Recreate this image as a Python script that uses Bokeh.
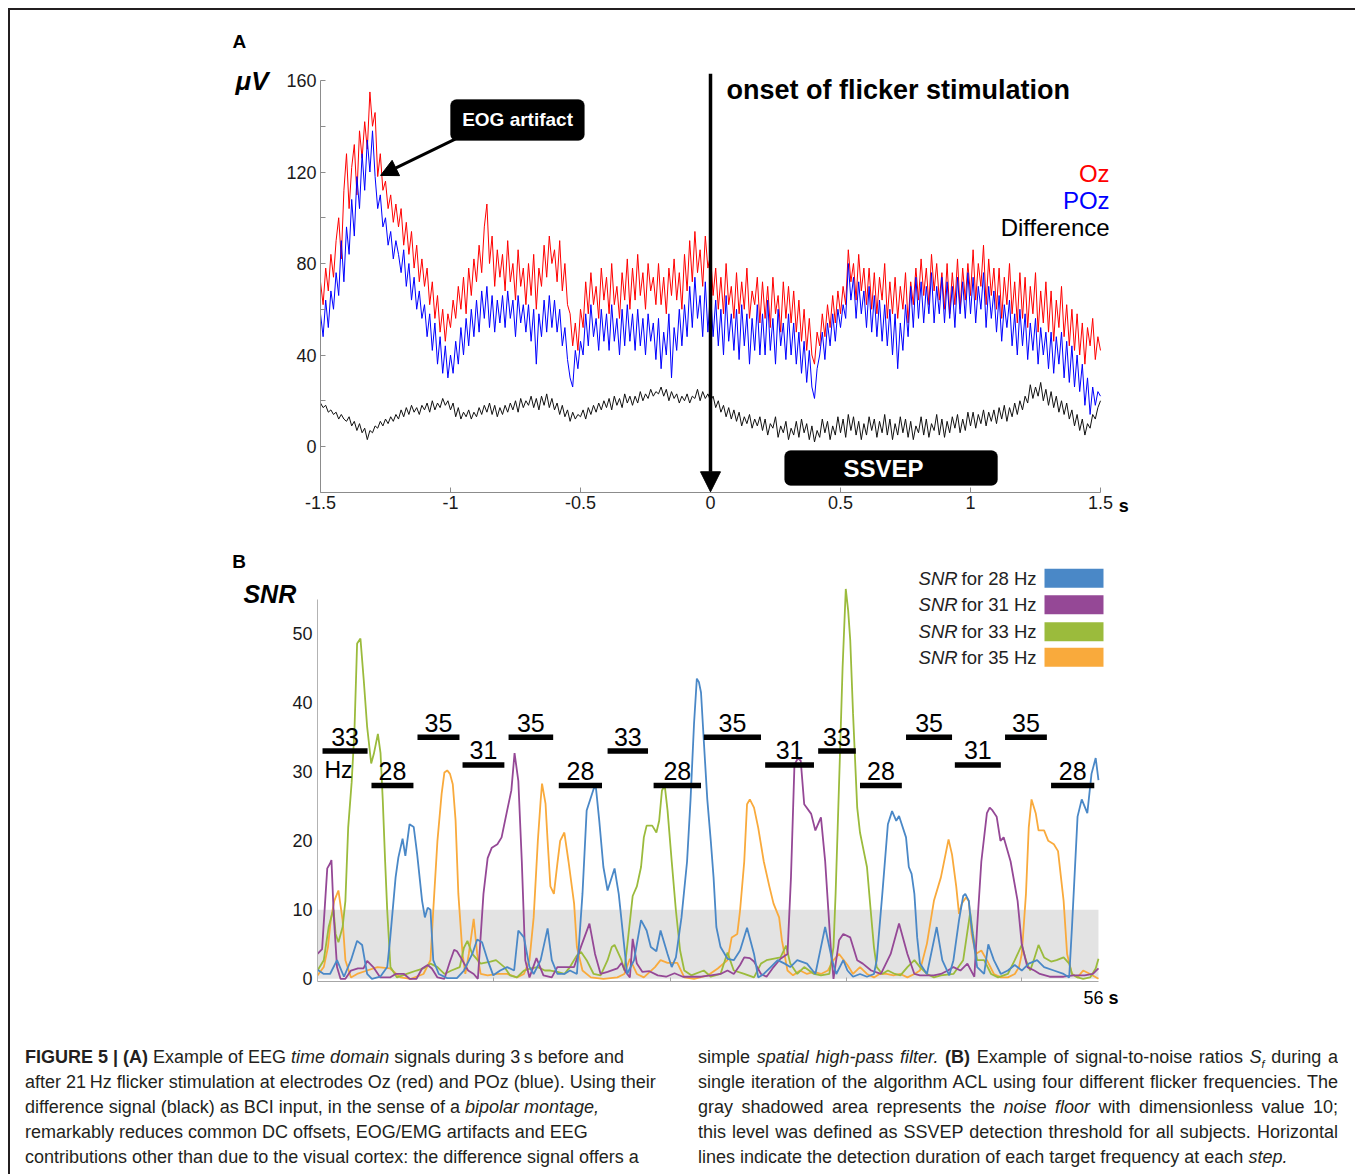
import numpy as np
from bokeh.plotting import figure
from bokeh.models import (Range1d, FixedTicker, CustomJSTickFormatter, Label, Arrow,
                          NormalHead, BoxAnnotation, ColumnDataSource, Div)
from bokeh.layouts import column
from bokeh.embed import file_html
from bokeh.resources import INLINE
from bokeh.core.properties import value

FONT = "Liberation Sans"

# ---------------- Panel A data (uV), 3 s around flicker onset, 10 ms steps ----------------
oz = [72, 62, 78, 68, 84, 74, 90, 100, 82, 112,
      128, 104, 122, 132, 110, 138, 126, 142, 130, 155,
      140, 146, 118, 128, 112, 116, 104, 110, 98, 106,
      96, 104, 88, 98, 84, 94, 78, 88, 72, 82,
      70, 78, 62, 72, 56, 66, 50, 60, 46, 58,
      52, 64, 56, 70, 60, 74, 58, 78, 66, 82,
      72, 88, 76, 96, 106, 80, 92, 70, 86, 74,
      84, 68, 90, 72, 80, 64, 86, 70, 78, 62,
      80, 66, 84, 60, 78, 70, 88, 74, 92, 80,
      86, 72, 90, 68, 80, 62, 58, 44, 54, 42,
      60, 52, 72, 58, 76, 62, 70, 56, 78, 64,
      74, 58, 80, 62, 70, 56, 76, 64, 82, 60,
      78, 64, 84, 66, 76, 60, 80, 68, 74, 62,
      80, 62, 74, 58, 78, 66, 82, 64, 76, 60,
      84, 68, 90, 72, 94, 76, 86, 70, 92, 78,
      84, 66, 78, 60, 74, 58, 80, 62, 70, 56,
      76, 58, 72, 60, 78, 56, 68, 62, 74, 54,
      72, 56, 70, 52, 74, 58, 66, 50, 72, 56,
      70, 54, 68, 50, 64, 46, 60, 42, 56, 40,
      36, 50, 44, 58, 48, 62, 52, 66, 54, 68,
      58, 70, 62, 86, 72, 80, 64, 84, 68, 78,
      62, 78, 60, 76, 58, 74, 64, 80, 56, 72,
      58, 74, 56, 70, 60, 76, 54, 72, 62, 78,
      64, 82, 66, 78, 62, 84, 68, 80, 64, 76,
      60, 80, 58, 76, 62, 82, 60, 78, 64, 80,
      66, 86, 64, 80, 70, 88, 62, 82, 66, 78,
      60, 78, 56, 74, 62, 80, 58, 72, 54, 76,
      56, 74, 52, 70, 58, 76, 50, 68, 54, 72,
      50, 68, 46, 64, 52, 70, 48, 62, 44, 60,
      42, 58, 40, 54, 36, 52, 44, 56, 38, 48, 42]
poz = [58, 48, 64, 52, 68, 60, 76, 66, 90, 72,
       96, 84, 108, 92, 118, 104, 128, 112, 134, 120,
       138, 118, 104, 110, 96, 100, 88, 94, 82, 90,
       84, 76, 86, 70, 80, 64, 74, 60, 68, 56,
       62, 48, 58, 42, 54, 36, 48, 32, 44, 30,
       40, 32, 46, 36, 52, 40, 56, 44, 60, 48,
       64, 50, 68, 56, 70, 52, 66, 50, 64, 54,
       66, 52, 68, 56, 64, 48, 66, 54, 62, 50,
       62, 46, 60, 36, 58, 48, 64, 50, 66, 52,
       64, 50, 60, 44, 52, 38, 30, 26, 42, 34,
       46, 40, 58, 44, 62, 48, 56, 42, 60, 46,
       58, 42, 62, 46, 56, 40, 60, 44, 62, 46,
       58, 42, 60, 44, 56, 40, 58, 46, 54, 38,
       56, 34, 50, 40, 58, 30, 52, 42, 60, 44,
       62, 48, 70, 52, 74, 56, 66, 48, 72, 50,
       68, 48, 64, 44, 60, 40, 66, 46, 58, 42,
       60, 38, 62, 44, 58, 36, 56, 42, 62, 40,
       58, 40, 64, 42, 56, 36, 60, 44, 54, 38,
       58, 40, 54, 36, 50, 32, 46, 28, 42, 26,
       21, 34, 40, 50, 38, 54, 44, 58, 46, 60,
       52, 62, 56, 80, 64, 74, 56, 72, 58, 68,
       52, 70, 50, 66, 48, 64, 46, 62, 44, 60,
       40, 58, 34, 54, 42, 62, 48, 70, 52, 74,
       56, 72, 54, 70, 58, 76, 54, 70, 58, 74,
       54, 72, 56, 70, 52, 74, 58, 72, 56, 76,
       58, 74, 54, 70, 60, 76, 52, 70, 56, 68,
       50, 66, 46, 62, 52, 64, 44, 58, 40, 60,
       44, 58, 38, 54, 42, 56, 36, 52, 40, 50,
       34, 50, 32, 48, 36, 50, 30, 46, 28, 44,
       26, 40, 24, 36, 18, 30, 14, 26, 18, 24, 22]
diff = [19, 17, 18, 15, 16, 14, 15, 12, 14, 12,
        11, 13, 9, 11, 7, 10, 6, 8, 3, 7,
        6, 9, 8, 11, 9, 12, 10, 13, 11, 14,
        12, 16, 13, 17, 14, 18, 15, 17, 14, 18,
        16, 19, 15, 20, 16, 19, 17, 21, 18, 20,
        16, 19, 13, 17, 12, 15, 13, 16, 12, 15,
        13, 17, 14, 18, 15, 19, 14, 18, 13, 17,
        14, 18, 15, 19, 16, 20, 15, 21, 17, 20,
        18, 22, 17, 21, 16, 22, 18, 23, 17, 21,
        16, 19, 14, 18, 13, 16, 11, 15, 12, 14,
        13, 16, 12, 17, 14, 18, 15, 19, 16, 20,
        17, 21, 16, 22, 18, 21, 17, 23, 19, 22,
        18, 22, 19, 24, 20, 23, 21, 25, 22, 24,
        23, 26, 22, 25, 20, 24, 21, 23, 19, 22,
        20, 23, 19, 22, 21, 25, 20, 24, 21, 23,
        20, 22, 17, 20, 15, 18, 13, 17, 12, 16,
        11, 15, 9, 13, 10, 14, 8, 12, 9, 13,
        7, 12, 5, 10, 8, 13, 4, 9, 6, 11,
        3, 8, 5, 11, 4, 12, 6, 10, 3, 9,
        2, 7, 4, 12, 6, 11, 3, 9, 5, 13,
        6, 12, 4, 14, 7, 13, 5, 11, 3, 10,
        5, 13, 7, 12, 4, 11, 6, 14, 5, 12,
        3, 10, 5, 13, 6, 12, 4, 11, 3, 9,
        6, 13, 5, 12, 4, 10, 7, 14, 5, 12,
        4, 11, 6, 13, 8, 14, 6, 12, 7, 15,
        9, 15, 8, 14, 10, 16, 9, 15, 11, 16,
        10, 17, 12, 18, 11, 17, 13, 19, 14, 20,
        16, 22, 19, 27, 21, 26, 22, 28, 20, 25,
        18, 24, 17, 22, 15, 20, 14, 19, 12, 16,
        9, 14, 7, 12, 5, 10, 8, 14, 12, 17, 20]
t_sec = np.linspace(-1.5, 1.5, len(oz))
x_ticks_a = [-1.5, -1, -0.5, 0, 0.5, 1, 1.5]
y_ticks_a = [0, 40, 80, 120, 160]
y_minor_a = [20, 60, 100, 140]

# ---------------- Panel B data: (time s, SNR) ----------------
snr28 = [(0, 1.3), (0.45, 0.7), (0.9, 0.7), (1.4, 2.7), (1.9, 0.3), (2.4, 2.7), (2.84, 5.5), (3.2, 4.9),
         (3.56, 0.7), (3.9, 0.0), (4.5, 0.3), (5.0, 1.7), (5.2, 5.6), (5.6, 14.7), (5.8, 17.6), (6.1, 20.3),
         (6.3, 17.8), (6.6, 22.4), (6.9, 22.0), (7.15, 18.0), (7.5, 11.3), (7.7, 8.9), (7.9, 10.3), (8.1, 10.0),
         (8.3, 2.7), (8.7, 0.7), (9.3, 0.1), (10.0, 0.1), (10.5, 1.2), (11.1, 3.6), (11.45, 5.7), (11.8, 5.3),
         (12.2, 2.7), (12.6, 0.5), (13.1, 1.2), (13.6, 1.7), (14.1, 1.2), (14.4, 7.0), (14.8, 6.0), (15.2, 1.7),
         (15.5, 0.7), (16.0, 2.7), (16.5, 7.3), (16.8, 2.7), (17.2, 0.7), (17.7, 0.7), (18.1, 1.2), (18.6, 0.7),
         (19.0, 12.3), (19.3, 24.4), (19.8, 27.5), (19.95, 28.0), (20.2, 23.0), (20.5, 16.2), (20.8, 12.8),
         (21.3, 16.0), (21.6, 12.3), (22.0, 4.6), (22.2, 0.7), (22.7, 2.7), (23.2, 8.5), (23.6, 7.0), (23.9, 4.6),
         (24.3, 4.0), (24.6, 7.0), (25.1, 3.6), (25.4, 1.7), (25.7, 3.1), (26.1, 8.9), (26.5, 17.0), (26.75, 26.0),
         (27.0, 37.0), (27.2, 43.5), (27.35, 43.0), (27.5, 41.5), (27.7, 34.5), (27.95, 26.0), (28.2, 20.0),
         (28.4, 14.7), (28.6, 7.5), (28.9, 4.6), (29.4, 2.9), (29.85, 2.7), (30.3, 4.1), (30.8, 7.4), (31.3, 3.6),
         (31.6, 0.2), (32.0, 0.7), (32.5, 1.7), (33.0, 2.7), (33.5, 2.2), (33.9, 1.7), (34.4, 2.7), (35.1, 2.2),
         (35.7, 0.7), (36.1, 4.6), (36.4, 7.5), (36.9, 2.7), (37.2, 0.7), (37.7, 2.7), (38.0, 1.2), (38.4, 0.3),
         (38.9, 0.7), (39.4, 0.3), (39.9, 0.7), (40.1, 2.7), (40.5, 12.3), (40.9, 22.4), (41.2, 24.3), (41.5, 22.9),
         (41.7, 23.6), (42.2, 20.5), (42.4, 16.2), (42.6, 15.2), (42.8, 12.3), (43.0, 6.0), (43.2, 2.2), (43.7, 0.7),
         (44.1, 4.6), (44.4, 7.5), (44.8, 2.7), (45.3, 0.5), (45.6, 2.7), (46.0, 8.5), (46.3, 12.0), (46.45, 12.3),
         (46.7, 11.3), (46.9, 7.5), (47.3, 1.7), (47.8, 0.7), (48.1, 5.0), (48.5, 2.7), (49.0, 0.7), (49.5, 1.2),
         (50.0, 2.0), (50.5, 1.2), (51.0, 2.2), (51.6, 2.7), (52.1, 1.7), (52.8, 1.2), (53.5, 0.7), (53.9, 0.2),
         (54.1, 7.5), (54.5, 23.5), (54.8, 26.0), (55.2, 24.0), (55.5, 29.7), (55.8, 32.0), (56.0, 28.8)]
snr31 = [(0, 3.6), (0.33, 4.3), (0.7, 16.0), (0.9, 16.7), (1.0, 17.2), (1.17, 9.0), (1.4, 1.7), (1.65, 0.0),
         (2.0, 0.0), (2.4, 1.2), (2.9, 1.5), (3.3, 1.5), (3.56, 2.6), (4.0, 1.7), (4.5, 0.2), (5.2, 0.2),
         (5.6, 0.7), (6.2, 0.7), (6.6, 0.0), (7.1, 0.0), (7.5, 1.5), (7.9, 2.0), (8.2, 1.5), (8.6, 0.2),
         (9.1, 0.0), (9.5, 2.5), (9.8, 4.2), (10.0, 4.0), (10.3, 3.0), (10.8, 1.2), (11.2, 0.7), (11.5, 0.0),
         (11.9, 12.3), (12.2, 17.5), (12.5, 19.0), (12.9, 19.5), (13.2, 20.5), (13.6, 24.4), (13.9, 27.3),
         (14.13, 32.7), (14.4, 28.7), (14.65, 17.0), (14.9, 2.7), (15.2, 0.2), (15.7, 3.0), (16.2, 0.5),
         (16.8, 0.2), (17.2, 1.7), (17.9, 1.7), (18.4, 1.7), (18.9, 4.7), (19.5, 8.0), (19.9, 3.6), (20.3, 0.7),
         (20.8, 1.0), (21.5, 1.5), (21.8, 2.3), (22.1, 1.0), (22.4, 0.2), (22.6, 5.8), (22.9, 2.2), (23.3, 1.0),
         (23.8, 1.1), (24.4, 0.5), (25.0, 0.3), (25.6, 0.8), (26.2, 0.3), (26.8, 0.3), (27.5, 0.3), (28.2, 0.5),
         (28.9, 0.7), (29.4, 1.2), (29.85, 0.7), (30.3, 2.0), (30.6, 3.1), (31.0, 3.0), (31.3, 2.5), (31.8, 0.7),
         (32.2, 0.3), (32.7, 1.7), (33.2, 2.9), (33.7, 3.6), (33.95, 14.7), (34.2, 31.0), (34.45, 32.0),
         (34.65, 31.6), (34.9, 25.3), (35.4, 23.9), (35.7, 21.5), (36.1, 23.4), (36.4, 17.1), (36.8, 4.6),
         (37.0, 0.0), (37.4, 5.6), (37.7, 6.5), (38.2, 6.0), (38.7, 2.7), (39.1, 2.2), (39.7, 1.2), (40.4, 0.7),
         (41.1, 3.6), (41.7, 8.0), (42.3, 3.6), (42.8, 0.7), (43.2, 0.5), (43.7, 0.5), (44.2, 0.5), (44.7, 0.7),
         (45.2, 1.2), (45.6, 1.7), (46.1, 1.2), (46.6, 2.2), (47.1, 0.3), (47.3, 7.5), (47.6, 17.0), (48.0, 24.0),
         (48.2, 24.8), (48.4, 24.4), (48.7, 23.5), (48.97, 20.0), (49.2, 20.5), (49.7, 17.0), (50.2, 11.3),
         (50.5, 5.0), (50.9, 1.7), (51.4, 1.2), (51.8, 0.7), (52.5, 0.3), (53.5, 0.3), (54.2, 0.5), (55.0, 0.5),
         (55.6, 0.7), (56.0, 1.5)]
snr33 = [(0, 1.2), (0.45, 2.7), (0.8, 7.5), (1.05, 9.4), (1.15, 10.0), (1.3, 6.5), (1.5, 5.3), (1.8, 7.5),
         (2.0, 11.3), (2.2, 21.9), (2.45, 28.5), (2.65, 36.0), (2.84, 48.6), (3.08, 49.3), (3.32, 43.2),
         (3.56, 36.5), (3.85, 31.2), (4.04, 32.6), (4.33, 35.5), (4.52, 32.7), (4.68, 25.9), (4.85, 17.0),
         (5.0, 9.9), (5.23, 1.7), (5.7, 0.2), (6.4, 0.7), (7.1, 1.2), (7.6, 1.5), (8.1, 2.2), (8.6, 1.7),
         (9.1, 0.7), (9.6, 1.2), (10.2, 1.7), (10.5, 4.5), (10.75, 5.5), (11.1, 3.6), (11.7, 2.2), (12.4, 2.5),
         (12.8, 2.7), (13.4, 1.7), (13.8, 0.5), (14.3, 0.2), (14.8, 1.2), (15.3, 1.5), (15.8, 1.7), (16.3, 1.2),
         (16.7, 1.2), (17.2, 1.0), (17.7, 0.7), (18.1, 1.7), (18.6, 3.4), (18.9, 3.9), (19.3, 2.7), (19.8, 0.7),
         (20.3, 0.5), (20.8, 2.7), (21.1, 4.6), (21.3, 4.9), (21.8, 2.7), (22.0, 1.2), (22.2, 4.6), (22.6, 12.0),
         (22.9, 13.4), (23.2, 16.2), (23.4, 20.5), (23.6, 22.2), (24.0, 22.2), (24.3, 21.2), (24.5, 22.9),
         (24.7, 27.3), (24.9, 28.0), (25.1, 24.4), (25.4, 17.0), (25.7, 9.9), (26.0, 4.1), (26.3, 1.2),
         (26.8, 0.5), (27.7, 1.2), (28.2, 0.3), (28.9, 0.7), (29.4, 3.8), (29.85, 1.2), (30.6, 0.7), (31.3, 0.2),
         (31.8, 2.2), (32.2, 2.7), (33.2, 3.1), (33.6, 4.8), (33.9, 2.2), (34.4, 0.7), (34.9, 1.7), (35.6, 0.7),
         (36.1, 0.5), (36.7, 0.7), (37.0, 4.6), (37.15, 12.3), (37.3, 21.9), (37.45, 31.6), (37.65, 45.0),
         (37.88, 56.5), (38.05, 53.4), (38.2, 49.1), (38.4, 38.5), (38.55, 31.6), (38.7, 24.8), (38.9, 21.2),
         (39.1, 19.2), (39.4, 16.2), (39.65, 10.3), (39.9, 4.6), (40.1, 1.7), (40.5, 0.7), (40.9, 1.2),
         (41.4, 0.7), (41.8, 0.5), (42.3, 1.7), (42.8, 2.7), (43.2, 1.7), (43.7, 0.7), (44.2, 0.2), (44.7, 0.5),
         (45.6, 0.7), (46.3, 2.7), (46.8, 9.6), (47.0, 6.5), (47.3, 2.7), (47.8, 2.7), (48.3, 0.7), (48.8, 0.2),
         (49.5, 0.7), (50.0, 2.7), (50.5, 4.9), (50.8, 2.7), (51.1, 1.2), (51.36, 2.7), (51.7, 4.9), (52.1, 3.1),
         (52.6, 2.5), (53.0, 2.7), (53.5, 3.1), (53.9, 2.2), (54.1, 0.7), (54.5, 0.2), (54.9, 0.0), (55.4, 0.2),
         (55.8, 1.5), (56.0, 2.9)]
snr35 = [(0, 0.5), (0.45, 1.7), (0.75, 4.6), (0.95, 8.5), (1.2, 11.3), (1.5, 12.8), (1.8, 8.5), (2.0, 2.7),
         (2.4, 0.2), (2.84, 0.7), (3.56, 1.2), (4.3, 1.7), (5.2, 1.5), (5.95, 0.2), (6.7, 0.0), (7.6, 0.7),
         (8.1, 2.7), (8.3, 9.9), (8.6, 20.0), (8.9, 26.8), (9.1, 29.9), (9.3, 30.2), (9.5, 29.7), (9.7, 28.2),
         (9.9, 23.0), (10.1, 12.3), (10.4, 3.6), (10.6, 0.7), (10.85, 3.6), (11.2, 8.7), (11.45, 3.6),
         (11.7, 0.7), (12.2, 0.5), (12.9, 0.7), (13.6, 0.7), (14.3, 0.2), (14.8, 0.7), (15.2, 2.7), (15.5, 8.9),
         (15.8, 20.0), (16.0, 25.8), (16.1, 28.3), (16.35, 25.4), (16.5, 20.0), (16.7, 13.4), (16.95, 12.3),
         (17.2, 16.7), (17.4, 20.0), (17.7, 21.2), (18.0, 17.0), (18.4, 10.9), (18.6, 4.6), (19.0, 1.2),
         (19.6, 0.2), (20.5, 0.0), (21.5, 0.2), (22.0, 0.7), (22.4, 2.9), (22.9, 0.7), (23.4, 0.2), (24.2, 1.7),
         (24.6, 2.7), (25.1, 2.3), (25.8, 2.3), (26.3, 0.2), (27.0, 0.0), (28.0, 0.5), (28.7, 1.5), (29.4, 2.7),
         (29.7, 6.0), (30.1, 6.5), (30.3, 9.9), (30.6, 17.0), (30.8, 25.3), (31.0, 26.0), (31.3, 24.8),
         (31.6, 21.9), (32.0, 17.0), (32.4, 13.4), (32.7, 10.9), (33.1, 8.9), (33.3, 5.6), (33.7, 1.2),
         (34.1, 0.5), (34.6, 1.2), (35.1, 0.7), (35.6, 1.0), (36.1, 0.7), (36.6, 1.2), (37.0, 2.7), (37.4, 3.6),
         (38.0, 2.0), (38.4, 0.7), (38.9, 1.7), (39.4, 0.7), (39.9, 0.2), (40.3, 0.7), (40.8, 0.7), (41.3, 0.5),
         (41.8, 0.7), (42.3, 0.2), (42.8, 0.7), (43.2, 1.2), (43.7, 5.1), (44.2, 11.3), (44.7, 14.7),
         (44.9, 16.7), (45.25, 20.2), (45.5, 18.0), (45.8, 13.4), (46.0, 9.4), (46.2, 10.9), (46.5, 11.8),
         (46.7, 11.3), (46.9, 6.5), (47.2, 3.6), (47.6, 4.1), (48.0, 2.7), (48.5, 0.7), (49.0, 0.2), (49.5, 0.2),
         (50.0, 0.7), (50.3, 1.7), (50.5, 3.6), (50.8, 12.3), (51.0, 21.9), (51.2, 26.0), (51.5, 24.0),
         (51.7, 21.5), (52.1, 21.5), (52.4, 20.0), (52.8, 19.5), (53.1, 18.5), (53.5, 11.3), (53.75, 3.6),
         (54.1, 0.7), (54.5, 0.2), (54.9, 1.2), (55.4, 0.7), (56.0, 0.0)]
step_freq = [33, 28, 35, 31, 35, 28, 33, 28, 35, 31, 33, 28, 35, 31, 35, 28]
step_start = [0.36, 3.87, 7.17, 10.4, 13.7, 17.3, 20.8, 24.1, 27.7, 32.1, 35.9, 38.9, 42.2, 45.7, 49.3, 52.6]
step_end = [3.59, 6.88, 10.18, 13.4, 16.9, 20.4, 23.7, 27.5, 31.8, 35.6, 38.6, 41.9, 45.5, 49.0, 52.3, 55.7]
noise_floor = 10
duration = 56
y_ticks_b = [0, 10, 20, 30, 40, 50]
x_ticks_b = [12.62, 25.3, 37.93, 50.5]
legend_freqs = [28, 31, 33, 35]

COLORS = {28: "#4a88c7", 31: "#954896", 33: "#9bbb3c", 35: "#f9aa3c"}
AXIS_GRAY = "#8c8c8c"
TXT = "#1a1a1a"

# ---------------- geometry (canvas pixels) ----------------
W = 1340
HA, HB, HC = 520, 495, 141
# panel A: t=-1.5 at x=310, 260 px per s; 0 uV at y=436 from top, 2.2875 px per uV
A_X0, A_SX, A_Y0, A_SY = 310, 260.0, 436, 2.2875
# panel B: 0 s at x=307, 13.946 px per s; SNR 0 at y=448.3 from top, 6.9 px per unit
B_X0, B_SX, B_Y0, B_SY = 307, 13.946, 448.3, 6.9

xr_a = Range1d(-1.5 - A_X0 / A_SX, -1.5 + (W - A_X0) / A_SX)
yr_a = Range1d(-(HA - A_Y0) / A_SY, A_Y0 / A_SY)
xr_b = Range1d(-B_X0 / B_SX, (W - B_X0) / B_SX)
yr_b = Range1d(-(HB - B_Y0) / B_SY, B_Y0 / B_SY)


def lab(p, x, y, text, size, style="normal", color=TXT, align="left", baseline="middle"):
    p.add_layout(Label(x=x, y=y, text=text, text_font=FONT, text_font_size=size,
                       text_font_style=style, text_color=color, text_align=align,
                       text_baseline=baseline))


def base_fig(h, xr, yr):
    p = figure(width=W, height=h, x_range=xr, y_range=yr, title=None,
               output_backend="svg", toolbar_location=None,
               min_border_left=0, min_border_right=0, min_border_top=0, min_border_bottom=0,
               outline_line_color=None, background_fill_color="white", border_fill_color="white")
    p.grid.visible = False
    return p


# ======================= Panel A =======================
pa = base_fig(HA, xr_a, yr_a)
pa.line(t_sec, oz, line_color="#ff0000", line_width=1)
pa.line(t_sec, poz, line_color="#0000ff", line_width=1)
pa.line(t_sec, diff, line_color="#111111", line_width=1)

pa.xaxis.ticker = FixedTicker(ticks=x_ticks_a)
pa.xaxis.formatter = CustomJSTickFormatter(code="return tick.toString();")
pa.xaxis.bounds = (-1.5, 1.5)
pa.xaxis.fixed_location = -20
pa.yaxis.ticker = FixedTicker(ticks=y_ticks_a, minor_ticks=y_minor_a)
pa.yaxis.bounds = (-20, 160)
pa.yaxis.fixed_location = -1.5
for ax in (pa.xaxis, pa.yaxis):
    ax.axis_line_color = AXIS_GRAY
    ax.major_tick_line_color = AXIS_GRAY
    ax.minor_tick_line_color = AXIS_GRAY
    ax.major_tick_in = 5
    ax.major_tick_out = 0
    ax.minor_tick_in = 5
    ax.minor_tick_out = 0
    ax.major_label_text_font = FONT
    ax.major_label_text_font_size = "18px"
    ax.major_label_text_color = TXT
    ax.major_label_standoff = 4
pa.xaxis.minor_tick_line_color = None

# onset arrow
pa.add_layout(Arrow(end=NormalHead(size=20, fill_color="black", line_color="black"),
                    x_start=0, y_start=163, x_end=0, y_end=-19.8,
                    line_width=3.5, line_color="black"))
lab(pa, 0.0615, 156, "onset of flicker stimulation", "27px", "bold", "black")
# channel names
lab(pa, 1.535, 119.3, "Oz", "24px", color="#ff0000", align="right")
lab(pa, 1.535, 107.5, "POz", "24px", color="#0000ff", align="right")
lab(pa, 1.535, 95.7, "Difference", "24px", color="black", align="right")
# EOG artifact call-out
pa.add_layout(BoxAnnotation(left=-1.0, right=-0.485, top=151.7, bottom=133.8, fill_color="black",
                            fill_alpha=1, line_color="black", border_radius=6))
lab(pa, -0.742, 142.8, "EOG artifact", "19px", "bold", "white", align="center")
pa.add_layout(Arrow(end=NormalHead(size=17, fill_color="black", line_color="black"),
                    x_start=-0.98, y_start=134.5, x_end=-1.269, y_end=118.5,
                    line_width=3, line_color="black"))
# SSVEP call-out
pa.add_layout(BoxAnnotation(left=0.285, right=1.104, top=-1.8, bottom=-17.0, fill_color="black",
                            fill_alpha=1, line_color="black", border_radius=6))
lab(pa, 0.665, -9.4, "SSVEP", "24px", "bold", "white", align="center")
# panel letter, unit, axis unit
lab(pa, -1.838, 177.2, "A", "19px", "bold", "black")
lab(pa, -1.827, 159.8, "\u03bcV", "26px", "bold italic", "black")
lab(pa, 1.570, -25.8, "s", "18px", "bold", "black")

# ======================= Panel B =======================
pb = base_fig(HB, xr_b, yr_b)
pb.add_layout(BoxAnnotation(left=0, right=duration, bottom=0, top=noise_floor, fill_color="#e3e3e3",
                            fill_alpha=1, line_color=None, level="underlay"))
for f, data in ((35, snr35), (33, snr33), (31, snr31), (28, snr28)):
    xs = [d[0] for d in data]
    ys = [d[1] for d in data]
    pb.line(xs, ys, line_color=COLORS[f], line_width=1.8)

src = ColumnDataSource(dict(f=step_freq, l=step_start, r=step_end,
                            c=[(a + b) / 2 for a, b in zip(step_start, step_end)],
                            ly=[f + 14.5 / B_SY for f in step_freq],
                            lab=[str(f) for f in step_freq]))
pb.hbar(y="f", left="l", right="r", height=0.8, source=src, fill_color="black", line_color=None)
pb.text(x="c", y="ly", text="lab", source=src, text_font=value(FONT), text_font_size="25px",
        text_align="center", text_baseline="middle", text_color="black")
lab(pb, 0.5, 30.2, "Hz", "23px", color="black", baseline="middle")

pb.yaxis.ticker = FixedTicker(ticks=y_ticks_b)
pb.yaxis.bounds = (-0.4, 55)
pb.yaxis.fixed_location = 0
pb.xaxis.ticker = FixedTicker(ticks=x_ticks_b)
pb.xaxis.formatter = CustomJSTickFormatter(code="return '';")
pb.xaxis.bounds = (0, duration)
pb.xaxis.fixed_location = -0.4
for ax in (pb.xaxis, pb.yaxis):
    ax.minor_tick_line_color = None
    ax.major_label_text_font = FONT
    ax.major_label_text_font_size = "18px"
    ax.major_label_text_color = TXT
    ax.major_label_standoff = 5
pb.yaxis.axis_line_color = "#b3b3b3"
pb.yaxis.major_tick_line_color = None
pb.yaxis.major_tick_in = 0
pb.yaxis.major_tick_out = 0
pb.xaxis.axis_line_color = "#a6a6a6"
pb.xaxis.major_tick_line_color = "#a6a6a6"
pb.xaxis.major_tick_in = 4
pb.xaxis.major_tick_out = 0

lab(pb, -6.12, 60.5, "B", "19px", "bold", "black")
lab(pb, -5.31, 55.8, "SNR", "25px", "bold italic", "black")
lab(pb, 54.92, -2.78, "56", "18px", color="black")
lab(pb, 56.72, -2.78, "s", "18px", "bold", "black")

legend_y = [58.05, 54.2, 50.3, 46.6]
for f, yv in zip(legend_freqs, legend_y):
    lab(pb, 43.1, yv, "SNR", "18.5px", "italic", "#222222")
    lab(pb, 51.56, yv, "\u00a0for %d Hz" % f, "18.5px", color="#222222", align="right")
    pb.add_layout(BoxAnnotation(left=52.13, right=56.36, bottom=yv - 1.37, top=yv + 1.37,
                                fill_color=COLORS[f], fill_alpha=1, line_color=None))

# ======================= Caption =======================
cap_left = [
    '<b>FIGURE 5 | (A)</b> Example of EEG <i>time domain</i> signals during 3&#8201;s before and',
    'after 21&#8201;Hz flicker stimulation at electrodes Oz (red) and POz (blue). Using their',
    'difference signal (black) as BCI input, in the sense of a <i>bipolar montage,</i>',
    'remarkably reduces common DC offsets, EOG/EMG artifacts and EEG',
    'contributions other than due to the visual cortex: the difference signal offers a',
]
cap_right = [
    'simple <i>spatial high-pass filter.</i> <b>(B)</b> Example of signal-to-noise ratios '
    '<i>S<sub style="font-size:11px">f</sub></i> during a',
    'single iteration of the algorithm ACL using four different flicker frequencies. The',
    'gray shadowed area represents the <i>noise floor</i> with dimensionless value 10;',
    'this level was defined as SSVEP detection threshold for all subjects. Horizontal',
    'lines indicate the detection duration of each target frequency at each <i>step.</i>',
]
LS = "height:25px;line-height:25px;white-space:nowrap;overflow:visible;"
left_html = "".join('<div style="%s">%s</div>' % (LS, s) for s in cap_left)
right_html = "".join(
    '<div style="%s%s">%s</div>' % (
        "height:25px;line-height:25px;overflow:hidden;",
        "text-align:justify;text-align-last:justify;" if i < len(cap_right) - 1 else "",
        s)
    for i, s in enumerate(cap_right))
cap_html = (
    '<div style="font-family:\'Liberation Sans\',Arial,sans-serif;font-size:18px;color:#231f20;'
    'padding-top:15px;display:flex;">'
    '<div style="width:650px;margin-left:10px;">%s</div>'
    '<div style="width:640px;margin-left:23px;">%s</div>'
    '</div>' % (left_html, right_html))
cap = Div(text=cap_html, width=W, height=HC)

layout = column(pa, pb, cap, styles={"margin-left": "8px", "margin-top": "8px",
                                     "border-top": "2px solid #231f20",
                                     "border-left": "2px solid #231f20",
                                     "border-right": "2px solid #231f20",
                                     "background-color": "white"})

open("out.html", "w").write(file_html(layout, INLINE, title="Figure 5"))
